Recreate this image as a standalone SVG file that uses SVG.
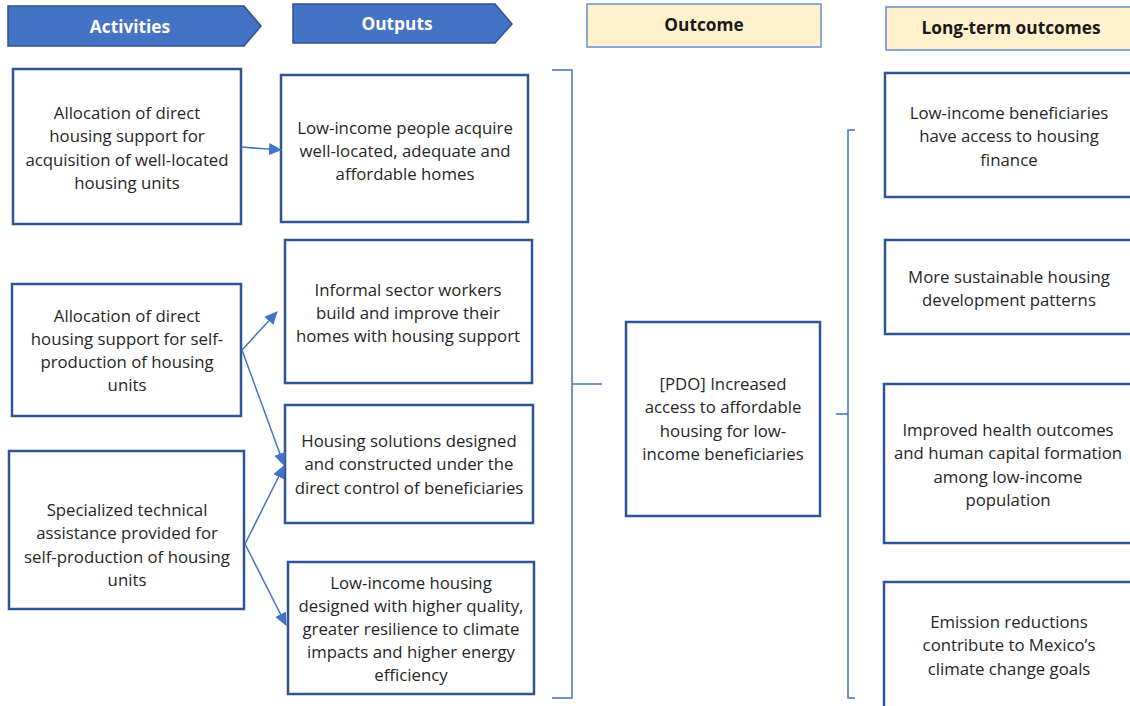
<svg xmlns="http://www.w3.org/2000/svg" width="1130" height="706" viewBox="0 0 1130 706">
<defs>
<style>
.box{fill:#fff;stroke:#2F5597;stroke-width:2.5}
.hdr{fill:#4472C4;stroke:#2F528F;stroke-width:1.5}
.ybox{fill:#FFF2CC;stroke:#6A8FD0;stroke-width:1.5}
.t{font-family:"Open Sans","Liberation Sans",Arial,sans-serif;font-size:16.8px;fill:#262626;text-anchor:middle}
.ht{font-family:"Open Sans","Liberation Sans",Arial,sans-serif;font-size:17.3px;font-weight:bold;text-anchor:middle}
.con{stroke:#4472C4;stroke-width:1.5;fill:none}
.br{stroke:#4472C4;stroke-width:1.5;fill:none}
</style>
<marker id="ah" markerWidth="13" markerHeight="12" refX="12" refY="6" orient="auto" markerUnits="userSpaceOnUse">
<path d="M0,0 L13,6 L0,12 z" fill="#4472C4"/>
</marker>
</defs>
<rect width="1130" height="706" fill="#fff"/>

<g id="hdr-activities">
<path class="hdr" d="M8,6 H244 L261,26 L244,46 H8 Z"/>
<text class="ht" x="130" y="33" fill="#fff">Activities</text>
</g>
<g id="hdr-outputs">
<path class="hdr" d="M293,4 H495 L512,24 L495,43 H293 Z"/>
<text class="ht" x="397" y="30" fill="#fff">Outputs</text>
</g>
<g id="hdr-outcome">
<rect class="ybox" x="587" y="4" width="234" height="43"/>
<text class="ht" x="704" y="31" fill="#1a1a1a">Outcome</text>
</g>
<g id="hdr-long">
<rect class="ybox" x="886" y="7" width="250" height="43"/>
<text class="ht" x="1011" y="34" fill="#1a1a1a">Long-term outcomes</text>
</g>

<g id="a1">
<rect class="box" x="13" y="69" width="228" height="155"/>
<text class="t" x="127" y="119">Allocation of direct</text>
<text class="t" x="127" y="142">housing support for</text>
<text class="t" x="127" y="166">acquisition of well-located</text>
<text class="t" x="127" y="189">housing units</text>
</g>
<g id="a2">
<rect class="box" x="12" y="284" width="229" height="132"/>
<text class="t" x="127" y="322">Allocation of direct</text>
<text class="t" x="127" y="345">housing support for self-</text>
<text class="t" x="127" y="368">production of housing</text>
<text class="t" x="127" y="391">units</text>
</g>
<g id="a3">
<rect class="box" x="9" y="451" width="235" height="158"/>
<text class="t" x="127" y="516">Specialized technical</text>
<text class="t" x="127" y="539">assistance provided for</text>
<text class="t" x="127" y="563">self-production of housing</text>
<text class="t" x="127" y="586">units</text>
</g>

<g id="o1">
<rect class="box" x="281" y="75" width="247" height="147"/>
<text class="t" x="405" y="134">Low-income people acquire</text>
<text class="t" x="405" y="157">well-located, adequate and</text>
<text class="t" x="405" y="180">affordable homes</text>
</g>
<g id="o2">
<rect class="box" x="285" y="240" width="247" height="143"/>
<text class="t" x="408" y="296">Informal sector workers</text>
<text class="t" x="408" y="319">build and improve their</text>
<text class="t" x="408" y="342">homes with housing support</text>
</g>
<g id="o3">
<rect class="box" x="285" y="405" width="248" height="118"/>
<text class="t" x="409" y="447">Housing solutions designed</text>
<text class="t" x="409" y="470">and constructed under the</text>
<text class="t" x="409" y="494">direct control of beneficiaries</text>
</g>
<g id="o4">
<rect class="box" x="288" y="562" width="246" height="132"/>
<text class="t" x="411" y="589">Low-income housing</text>
<text class="t" x="411" y="612">designed with higher quality,</text>
<text class="t" x="411" y="635">greater resilience to climate</text>
<text class="t" x="411" y="658">impacts and higher energy</text>
<text class="t" x="411" y="681">efficiency</text>
</g>

<g id="pdo">
<rect class="box" x="626" y="322" width="194" height="194"/>
<text class="t" x="723" y="390">[PDO] Increased</text>
<text class="t" x="723" y="413">access to affordable</text>
<text class="t" x="723" y="437">housing for low-</text>
<text class="t" x="723" y="460">income beneficiaries</text>
</g>

<g id="l1">
<rect class="box" x="885" y="73" width="250" height="124"/>
<text class="t" x="1009" y="119">Low-income beneficiaries</text>
<text class="t" x="1009" y="142">have access to housing</text>
<text class="t" x="1009" y="166">finance</text>
</g>
<g id="l2">
<rect class="box" x="885" y="240" width="250" height="94"/>
<text class="t" x="1009" y="283">More sustainable housing</text>
<text class="t" x="1009" y="306">development patterns</text>
</g>
<g id="l3">
<rect class="box" x="884" y="384" width="251" height="159"/>
<text class="t" x="1008" y="436">Improved health outcomes</text>
<text class="t" x="1008" y="459">and human capital formation</text>
<text class="t" x="1008" y="483">among low-income</text>
<text class="t" x="1008" y="506">population</text>
</g>
<g id="l4">
<rect class="box" x="884" y="582" width="251" height="130"/>
<text class="t" x="1009" y="628">Emission reductions</text>
<text class="t" x="1009" y="651">contribute to Mexico’s</text>
<text class="t" x="1009" y="675">climate change goals</text>
</g>

<g id="connectors">
<line class="con" x1="241" y1="147" x2="281" y2="150" marker-end="url(#ah)"/>
<line class="con" x1="242" y1="350" x2="277" y2="312" marker-end="url(#ah)"/>
<line class="con" x1="242" y1="350" x2="284" y2="465" marker-end="url(#ah)"/>
<line class="con" x1="245" y1="544" x2="284" y2="466" marker-end="url(#ah)"/>
<line class="con" x1="245" y1="544" x2="286" y2="625" marker-end="url(#ah)"/>
<path class="br" d="M552,70 H572 V698 H552 M572,384 H602"/>
<path class="br" d="M855,130 H848 V698 H855 M836,414 H848"/>
</g>
</svg>
